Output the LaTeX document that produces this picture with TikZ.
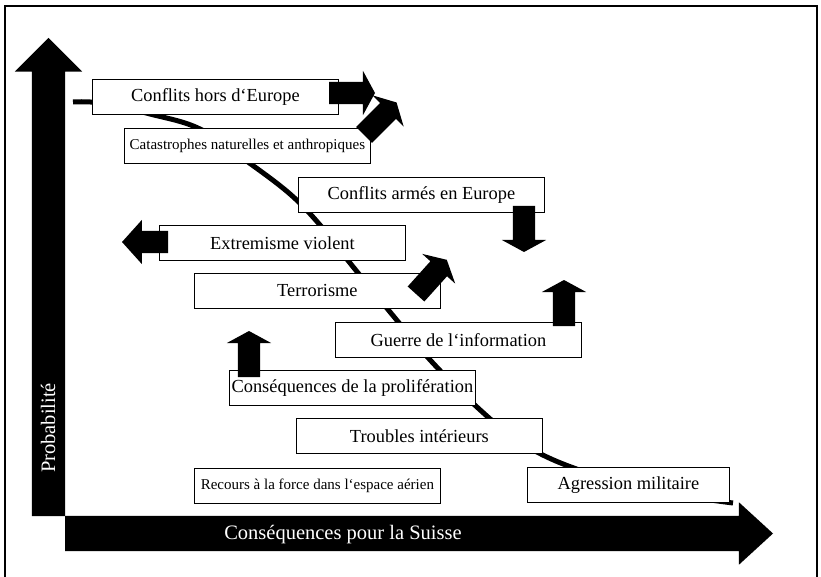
\documentclass[tikz,border=0pt]{standalone}
\usepackage{fontspec}
\setmainfont{Liberation Serif}
\usetikzlibrary{shapes.arrows}
\tikzset{
    risk-box/.style = {draw=black, fill=white, line width=0.8pt, rectangle, inner sep=0pt, minimum width=246pt, minimum height=35pt, anchor=north west, font=\fontsize{18.4}{22}\selectfont},
    risk-box-small/.style = {risk-box, font=\fontsize{15}{18}\selectfont},
    trend-arrow/.style = {single arrow, fill=black, draw=none, inner xsep=0pt, inner ysep=11pt, outer sep=0pt, single arrow head extend=11pt, single arrow tip angle=123, minimum height=46pt, anchor=tail},
    axis-arrow/.style = {single arrow, fill=black, draw=none, inner xsep=0pt, outer sep=0pt, anchor=tail},
    axis-label/.style = {text=white, inner sep=0pt, font=\fontsize{20.5}{24}\selectfont},
}
\begin{document}
\begin{tikzpicture}[x=1pt, y=-1pt]
\useasboundingbox (0,0) rectangle (821,577);
\draw[line width=1.6pt] (5,6) rectangle (817,582);

\draw[line width=5pt] plot[smooth, tension=0.6] coordinates {(73,102) (100,103) (150,114) (200,129) (248,162) (290,194) (320,225) (350,263) (395,318) (432,362) (478,408) (520,442) (571,467) (650,490) (733,503)};

\node [risk-box] (hors-europe) at (92,79) {Conflits hors d‘Europe};
\node [risk-box-small] (catastrophes) at (124,128) {Catastrophes naturelles et anthropiques};
\node [risk-box] (conflits-europe) at (298,177) {Conflits armés en Europe};
\node [risk-box] (extremisme) at (159,225) {Extremisme violent};
\node [risk-box] (terrorisme) at (194,273) {Terrorisme};
\node [risk-box] (guerre-info) at (335,322) {Guerre de l‘information};
\node [risk-box] (proliferation) at (229,370) {Conséquences de la prolifération};
\node [risk-box] (troubles) at (296,418) {Troubles intérieurs};
\node [risk-box-small] (recours) at (194,468) {Recours à la force dans l‘espace aérien};
\node [risk-box, minimum width=202pt] (agression) at (527,467) {Agression militaire};

\node [trend-arrow] (hors-europe-trend) at (329,93) {};
\node [trend-arrow, rotate=45] (catastrophes-trend) at (364,135) {};
\node [trend-arrow, rotate=-90] (conflits-europe-trend) at (524,206) {};
\node [trend-arrow, rotate=180, single arrow tip angle=96] (extremisme-trend) at (168,242) {};
\node [trend-arrow, rotate=48] (terrorisme-trend) at (416,294) {};
\node [trend-arrow, rotate=90] (guerre-info-trend) at (564,326) {};
\node [trend-arrow, rotate=90] (proliferation-trend) at (249,377) {};

\node [axis-arrow, rotate=90, minimum height=478pt, inner ysep=16.5pt, single arrow head extend=17pt, single arrow tip angle=90] (prob-axis) at (48.5,516) {};
\node [axis-arrow, minimum height=708pt, inner ysep=17.5pt, single arrow head extend=13.5pt, single arrow tip angle=85] (cons-axis) at (65,533.5) {};
\node [axis-label, rotate=90] (prob-label) at (48,428) {Probabilité};
\node [axis-label] (cons-label) at (343,535) {Conséquences pour la Suisse};
\end{tikzpicture}
\end{document}
